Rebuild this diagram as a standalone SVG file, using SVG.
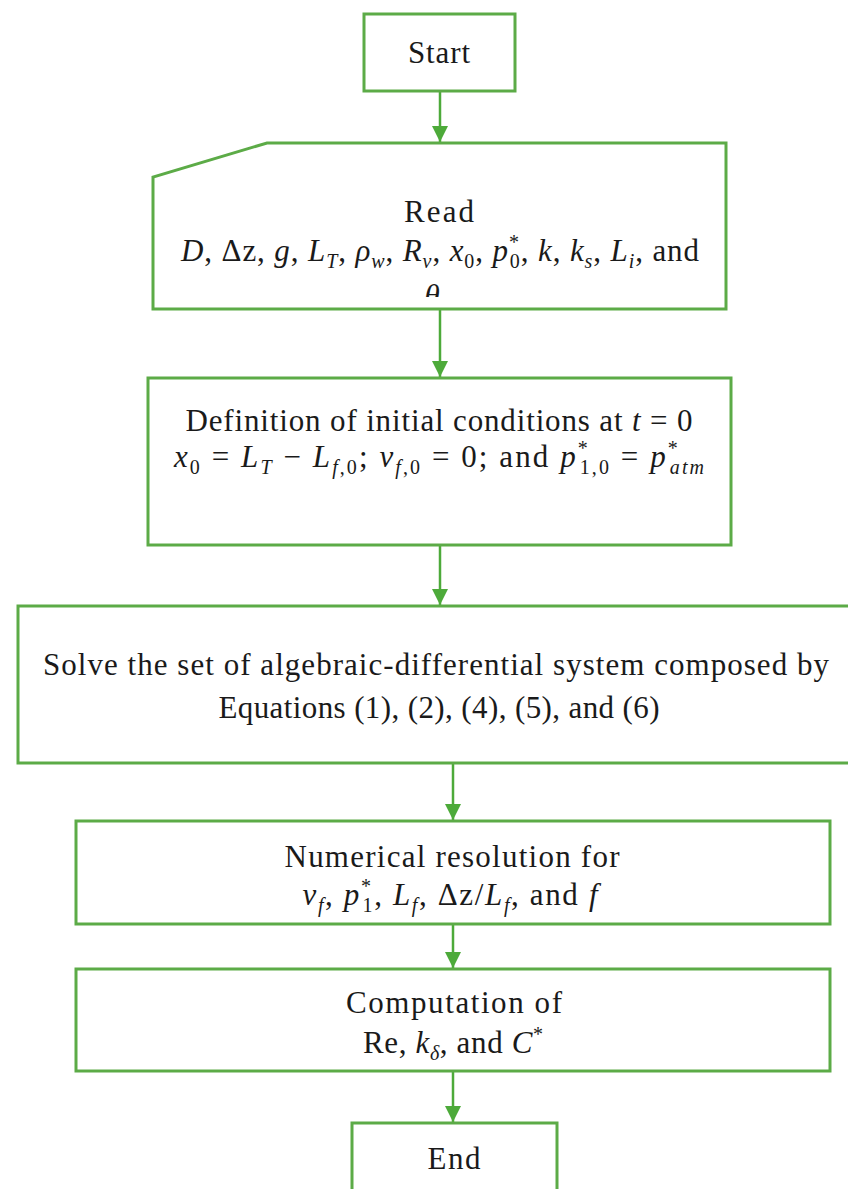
<svg xmlns="http://www.w3.org/2000/svg" width="848" height="1189" viewBox="0 0 848 1189">
<style>
.box{fill:#ffffff;stroke:#5CAB47;stroke-width:3}
.conn{stroke:#4DAA3A;stroke-width:2.5;fill:none;marker-end:url(#ah)}
.t{font-family:"Liberation Serif","Times New Roman",serif;font-size:31px;fill:#1a1a1a;text-anchor:middle}
.i{font-style:italic}
.s{font-size:20px}
</style>
<defs>
<marker id="ah" markerUnits="userSpaceOnUse" markerWidth="16" markerHeight="16" refX="16" refY="8" orient="auto">
<path d="M0,0 L16,8 L0,16 z" fill="#4DAA3A"/>
</marker>
<clipPath id="readclip"><rect x="150" y="140" width="580" height="157"/></clipPath>
</defs>
<rect width="848" height="1189" fill="#ffffff"/>

<g id="connectors">
<line class="conn" x1="440" y1="92" x2="440" y2="142"/>
<line class="conn" x1="440" y1="310" x2="440" y2="377"/>
<line class="conn" x1="440" y1="546" x2="440" y2="605"/>
<line class="conn" x1="453" y1="764" x2="453" y2="820"/>
<line class="conn" x1="453" y1="925" x2="453" y2="968"/>
<line class="conn" x1="453" y1="1072" x2="453" y2="1122"/>
</g>

<g id="start">
<rect class="box" x="364" y="14" width="151" height="77"/>
<text class="t" x="439" y="63" textLength="62" lengthAdjust="spacing">Start</text>
</g>

<g id="read">
<polygon class="box" points="267,143 726,143 726,309 153,309 153,177"/>
<text class="t" x="439" y="222" textLength="70" lengthAdjust="spacing">Read</text>
<text class="t" x="440" y="261" textLength="518" lengthAdjust="spacing"><tspan class="i">D</tspan>, Δz, <tspan class="i">g</tspan>, <tspan class="i">L</tspan><tspan class="s i" dy="7">T</tspan><tspan dy="-7">, </tspan><tspan class="i">ρ</tspan><tspan class="s i" dy="7">w</tspan><tspan dy="-7">, </tspan><tspan class="i">R</tspan><tspan class="s i" dy="7">v</tspan><tspan dy="-7">, </tspan><tspan class="i">x</tspan><tspan class="s" dy="7">0</tspan><tspan dy="-7">, </tspan><tspan class="i">p</tspan><tspan class="s" dy="-12">*</tspan><tspan class="s" dx="-10" dy="19">0</tspan><tspan dy="-7">, </tspan><tspan class="i">k</tspan>, <tspan class="i">k</tspan><tspan class="s i" dy="7">s</tspan><tspan dy="-7">, </tspan><tspan class="i">L</tspan><tspan class="s i" dy="7">i</tspan><tspan dy="-7">, and</tspan></text>
<text class="t i" x="436" y="306" clip-path="url(#readclip)">θ.</text>
</g>

<g id="definition">
<rect class="box" x="148" y="378" width="583" height="167"/>
<text class="t" x="439" y="431" textLength="507" lengthAdjust="spacing">Definition of initial conditions at <tspan class="i">t</tspan> = 0</text>
<text class="t" x="439" y="467" textLength="530" lengthAdjust="spacing"><tspan class="i">x</tspan><tspan class="s" dy="7">0</tspan><tspan dy="-7"> = </tspan><tspan class="i">L</tspan><tspan class="s i" dy="7">T</tspan><tspan dy="-7"> − </tspan><tspan class="i">L</tspan><tspan class="s" dy="7"><tspan class="i">f</tspan>,0</tspan><tspan dy="-7">; </tspan><tspan class="i">v</tspan><tspan class="s" dy="7"><tspan class="i">f</tspan>,0</tspan><tspan dy="-7"> = 0; and </tspan><tspan class="i">p</tspan><tspan class="s" dy="-12">*</tspan><tspan class="s" dx="-10" dy="19">1,0</tspan><tspan dy="-7"> =  </tspan><tspan class="i">p</tspan><tspan class="s" dy="-12">*</tspan><tspan class="s i" dx="-10" dy="19">atm</tspan></text>
</g>

<g id="solve">
<rect class="box" x="18" y="606" width="850" height="157"/>
<text class="t" x="436" y="675" textLength="786" lengthAdjust="spacing">Solve the set of algebraic-differential system composed by</text>
<text class="t" x="439" y="718" textLength="441" lengthAdjust="spacing">Equations (1), (2), (4), (5), and (6)</text>
</g>

<g id="numerical">
<rect class="box" x="76" y="821" width="754" height="103"/>
<text class="t" x="452" y="867" textLength="335" lengthAdjust="spacing">Numerical resolution for</text>
<text class="t" x="450" y="905" textLength="295" lengthAdjust="spacing"><tspan class="i">v</tspan><tspan class="s i" dy="7">f</tspan><tspan dy="-7">, </tspan><tspan class="i">p</tspan><tspan class="s" dy="-12">*</tspan><tspan class="s" dx="-10" dy="19">1</tspan><tspan dy="-7">, </tspan><tspan class="i">L</tspan><tspan class="s i" dy="7">f</tspan><tspan dy="-7">, Δz/</tspan><tspan class="i">L</tspan><tspan class="s i" dy="7">f</tspan><tspan dy="-7">, and </tspan><tspan class="i">f</tspan></text>
</g>

<g id="computation">
<rect class="box" x="76" y="969" width="754" height="102"/>
<text class="t" x="454" y="1013" textLength="216" lengthAdjust="spacing">Computation of</text>
<text class="t" x="453" y="1053" textLength="180" lengthAdjust="spacing">Re, <tspan class="i">k</tspan><tspan class="s i" dy="7">δ</tspan><tspan dy="-7">, and </tspan><tspan class="i">C</tspan><tspan class="s" dy="-12">*</tspan></text>
</g>

<g id="end">
<rect class="box" x="352" y="1123" width="205" height="90"/>
<text class="t" x="454" y="1169" textLength="53" lengthAdjust="spacing">End</text>
</g>
</svg>
